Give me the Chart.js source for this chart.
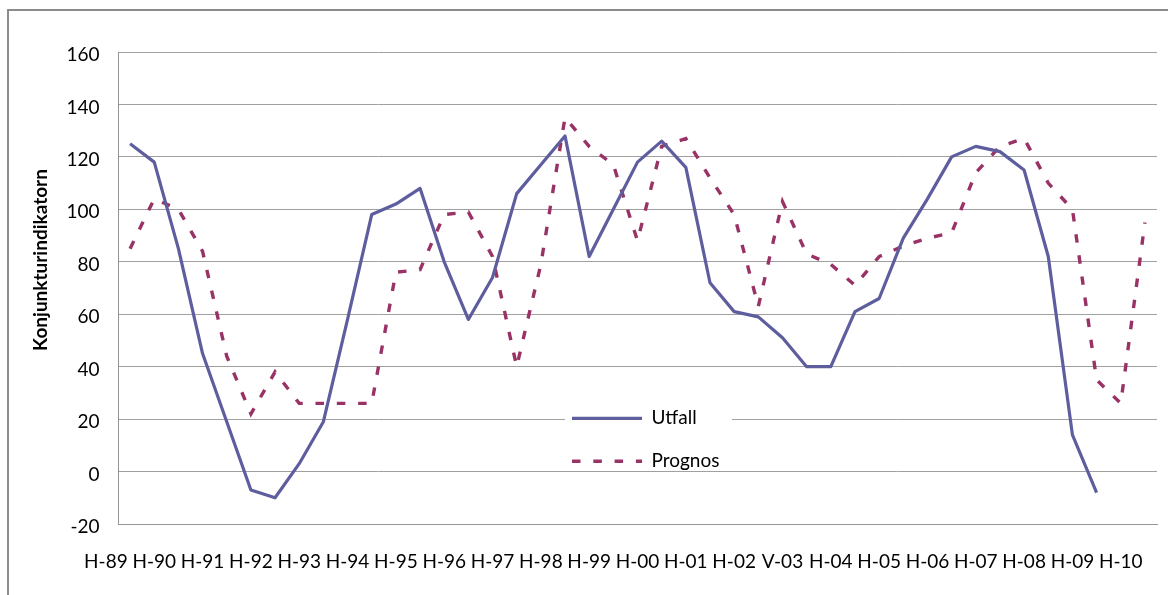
<!DOCTYPE html>
<html>
<head>
<meta charset="utf-8">
<script src="https://cdn.jsdelivr.net/npm/chart.js@4.4.1/dist/chart.umd.min.js"></script>
<style>
html,body{margin:0;padding:0;background:#fff;width:1168px;height:595px;overflow:hidden;}
#frame{position:absolute;left:7px;top:9px;width:1300px;height:700px;border-left:2px solid #8c8c8c;border-top:2px solid #8c8c8c;}
#c{position:absolute;left:0;top:0;}
</style>
</head>
<body>
<div id="frame"></div>
<canvas id="c" width="1168" height="595"></canvas>
<script>
// ---- data ----
const tickLabels = ['H-89','H-90','H-91','H-92','H-93','H-94','H-95','H-96','H-97','H-98','H-99',
                    'H-00','H-01','H-02','V-03','H-04','H-05','H-06','H-07','H-08','H-09','H-10'];
const seriesNames = ['Utfall', 'Prognos'];
const utfall = [125, 118, 85, 45, 19, -7, -10, 3, 19, 58,
                98, 102, 108, 80, 58, 74, 106, 117, 128, 82,
                100, 118, 126, 116, 72, 61, 59, 51, 40, 40,
                61, 66, 89, 104, 120, 124, 122, 115, 82, 14, -8];
const prognos = [85, 104, 100, 84, 44, 22, 38, 26, 26, 26, 26,
                 76, 77, 98, 99, 82, 40, 79, 135, 124, 117,
                 88, 124, 127, 112, 98, 63, 103, 83, 79, 71,
                 82, 86, 89, 91, 114, 124, 127, 110, 100, 35, 26, 95];
const yTitle = 'Konjunkturindikatorn';
const yMin = -20, yMax = 160, yStep = 20;

// half-year positions; every other one carries a tick label
const categories = Array.from({length: prognos.length}, (_, i) => i % 2 === 0 ? tickLabels[i / 2] : '');

Chart.defaults.font.family = 'Lato, "Open Sans", sans-serif';
Chart.defaults.color = '#000';

const AREA_L = 118, AREA_R = 1157;
const CAT_W = (AREA_R - AREA_L) / categories.length;

const legendMover = {
  id: 'legendMover',
  afterLayout(chart) {
    const lg = chart.legend;
    lg.left = 548; lg.top = 384.8; lg.right = 800; lg.bottom = 520;
  },
  beforeDatasetsDraw(chart) {
    const ctx = chart.ctx;
    ctx.save();
    ctx.fillStyle = '#fff';
    ctx.fillRect(565, 398, 167, 70);
    ctx.restore();
    chart.legend.draw();
  }
};

const yTitlePlugin = {
  id: 'yTitlePlugin',
  afterDraw(chart) {
    const ctx = chart.ctx;
    ctx.save();
    ctx.translate(41, 260);
    ctx.rotate(-Math.PI / 2);
    ctx.font = 'bold 19px Lato, "Open Sans", sans-serif';
    ctx.fillStyle = '#000';
    ctx.textAlign = 'center';
    ctx.textBaseline = 'middle';
    ctx.fillText(yTitle, 0, 0);
    ctx.restore();
  }
};

new Chart(document.getElementById('c'), {
  type: 'line',
  data: {
    labels: categories,
    datasets: [
      { label: seriesNames[0], data: utfall, borderColor: '#5E5E9E', backgroundColor: '#5E5E9E',
        borderWidth: 3.2, pointRadius: 0, tension: 0, fill: false, borderJoinStyle: 'round' },
      { label: seriesNames[1], data: prognos, borderColor: '#993366', backgroundColor: '#993366',
        borderWidth: 3.4, borderDash: [8.5, 12.8], pointRadius: 0, tension: 0, fill: false }
    ]
  },
  options: {
    responsive: false,
    animation: false,
    devicePixelRatio: 1,
    layout: { padding: { top: 52, right: 11, left: 0, bottom: 0 } },
    plugins: {
      tooltip: { enabled: false },
      legend: {
        position: 'chartArea',
        align: 'start',
        labels: {
          usePointStyle: true,
          pointStyle: 'line',
          pointStyleWidth: 70,
          padding: 24,
          color: '#000',
          font: { size: 19 },
          generateLabels(chart) {
            const items = Chart.defaults.plugins.legend.labels.generateLabels(chart);
            items.forEach((it) => {
              const ds = chart.data.datasets[it.datasetIndex];
              it.lineDash = ds.borderDash || [];
              it.lineWidth = ds.borderWidth;
              it.strokeStyle = ds.borderColor;
              it.pointStyle = 'line';
            });
            return items;
          }
        }
      }
    },
    scales: {
      x: {
        type: 'category',
        offset: true,
        grid: { display: true, color: 'rgba(0,0,0,0)', tickColor: 'rgba(0,0,0,0)', tickLength: 26 },
        border: { display: true, color: '#959595', width: 1 },
        ticks: { autoSkip: false, maxRotation: 0, minRotation: 0, padding: 0,
                 labelOffset: -CAT_W, font: { size: 19 }, color: '#000' },
        afterFit(s) { s.height = 71; }
      },
      y: {
        min: yMin, max: yMax,
        ticks: { stepSize: yStep, padding: 18.5, labelOffset: 3, font: { size: 19 }, color: '#000' },
        grid: { color: '#a0a0a0', drawTicks: false },
        border: { display: true, color: '#959595', width: 1 },
        afterFit(s) { s.width = AREA_L; }
      }
    }
  },
  plugins: [legendMover, yTitlePlugin]
});
</script>
</body>
</html>
